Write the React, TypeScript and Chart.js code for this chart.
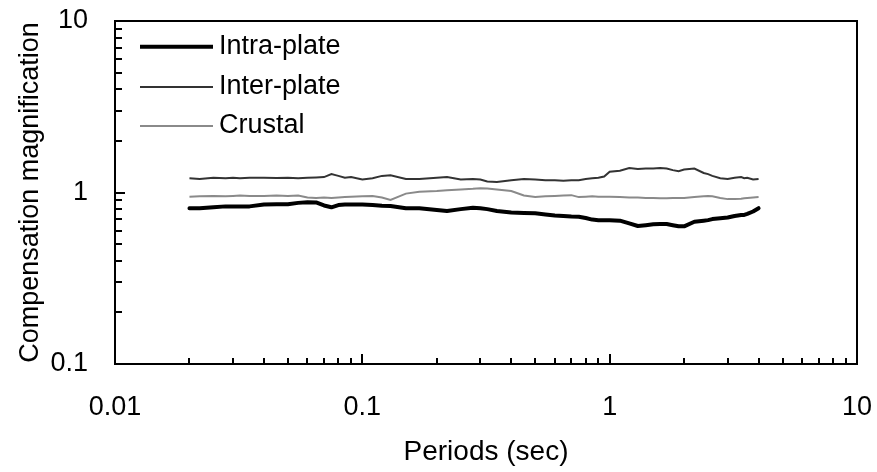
import React, { useEffect, useRef } from "react";
import { Chart, registerables } from "chart.js";

Chart.register(...registerables);

// ---------- data ----------
const periods = [
  0.02, 0.022, 0.025, 0.028, 0.03, 0.032, 0.035, 0.04, 0.045, 0.05, 0.055, 0.06,
  0.065, 0.07, 0.075, 0.08, 0.085, 0.09, 0.1, 0.11, 0.12, 0.13, 0.15, 0.17, 0.2,
  0.22, 0.25, 0.28, 0.3, 0.32, 0.35, 0.4, 0.45, 0.5, 0.55, 0.6, 0.65, 0.7, 0.75,
  0.8, 0.85, 0.9, 0.95, 1.0, 1.1, 1.2, 1.3, 1.4, 1.5, 1.6, 1.7, 1.8, 1.9, 2.0,
  2.2, 2.4, 2.5, 2.6, 2.8, 3.0, 3.2, 3.4, 3.5, 3.6, 3.8, 4.0,
];

const intraPlate = [
  0.81, 0.81, 0.82, 0.83, 0.83, 0.83, 0.83, 0.85, 0.855, 0.855, 0.87, 0.877,
  0.875, 0.84, 0.82, 0.845, 0.85, 0.85, 0.85, 0.845, 0.838, 0.835, 0.81, 0.81, 0.79,
  0.78, 0.8, 0.815, 0.81, 0.8, 0.78, 0.765, 0.76, 0.756, 0.745, 0.735, 0.73, 0.725, 0.722,
  0.71, 0.695, 0.69, 0.69, 0.69, 0.685, 0.66, 0.638, 0.645, 0.652, 0.655, 0.655, 0.645, 0.635, 0.635,
  0.675, 0.685, 0.69, 0.7, 0.707, 0.715, 0.73, 0.74, 0.74, 0.75, 0.775, 0.81,
];

const interPlate = [
  1.21, 1.2, 1.22, 1.21, 1.22, 1.21, 1.22, 1.22, 1.215, 1.22, 1.21, 1.22,
  1.225, 1.23, 1.28, 1.25, 1.22, 1.23, 1.19, 1.21, 1.25, 1.26, 1.2, 1.2, 1.22,
  1.23, 1.19, 1.2, 1.19, 1.16, 1.15, 1.18, 1.2, 1.19, 1.18, 1.18, 1.17, 1.18, 1.18,
  1.2, 1.21, 1.22, 1.24, 1.32, 1.34, 1.39, 1.37, 1.38, 1.38, 1.39, 1.38, 1.35, 1.33, 1.36,
  1.38, 1.3, 1.28, 1.25, 1.21, 1.2, 1.22, 1.23, 1.21, 1.22, 1.19, 1.2,
];

const crustal = [
  0.945, 0.95, 0.955, 0.95, 0.955, 0.96, 0.955, 0.955, 0.96, 0.955, 0.96, 0.935,
  0.93, 0.935, 0.93, 0.935, 0.94, 0.945, 0.95, 0.955, 0.935, 0.905, 0.985, 1.01, 1.02,
  1.03, 1.04, 1.05, 1.06, 1.055, 1.04, 1.02, 0.96, 0.94, 0.95, 0.955, 0.96, 0.965, 0.94,
  0.945, 0.95, 0.945, 0.945, 0.945, 0.94, 0.935, 0.935, 0.93, 0.93, 0.925, 0.925, 0.93, 0.93, 0.93,
  0.94, 0.95, 0.955, 0.95, 0.93, 0.915, 0.915, 0.92, 0.925, 0.93, 0.935, 0.94,
];

const seriesNames = ["Intra-plate", "Inter-plate", "Crustal"];

const xTickValues = [
  0.01, 0.02, 0.03, 0.04, 0.05, 0.06, 0.07, 0.08, 0.09,
  0.1, 0.2, 0.3, 0.4, 0.5, 0.6, 0.7, 0.8, 0.9,
  1, 2, 3, 4, 5, 6, 7, 8, 9, 10,
];
const xMajorTicks = [0.01, 0.1, 1, 10];
const xTickLabels = ["0.01", "0.1", "1", "10"];

const yTickValues = [
  0.1, 0.2, 0.3, 0.4, 0.5, 0.6, 0.7, 0.8, 0.9,
  1, 2, 3, 4, 5, 6, 7, 8, 9, 10,
];
const yMajorTicks = [0.1, 1, 10];
const yTickLabels = ["0.1", "1", "10"];

const xTitle = "Periods (sec)";
const yTitle = "Compensation magnification";

// ---------- layout ----------
const W = 877;
const H = 472;
const FONT = '"Liberation Sans", Arial, Helvetica, sans-serif';

const plotTop = 21;
const plotBottom = 364;
const plotLeft = 115;
const plotRight = 857;

const framePlugin = {
  id: "frameAndTicks",
  afterDatasetsDraw(chart: any) {
    const { ctx, chartArea } = chart;
    const xs = chart.scales.x;
    const ys = chart.scales.y;
    ctx.save();
    ctx.strokeStyle = "#000";
    ctx.lineCap = "butt";
    ctx.lineWidth = 2;
    for (const t of xs.ticks) {
      const v = t.value;
      const px = Math.round(xs.getPixelForValue(v));
      const len = xMajorTicks.includes(v) ? 10 : 6;
      ctx.beginPath();
      ctx.moveTo(px, chartArea.bottom);
      ctx.lineTo(px, chartArea.bottom - len);
      ctx.stroke();
    }
    for (const t of ys.ticks) {
      const v = t.value;
      const py = Math.round(ys.getPixelForValue(v));
      const len = yMajorTicks.includes(v) ? 10 : 7;
      ctx.beginPath();
      ctx.moveTo(chartArea.left, py);
      ctx.lineTo(chartArea.left + len, py);
      ctx.stroke();
    }
    // frame
    ctx.lineWidth = 2;
    ctx.strokeRect(chartArea.left, chartArea.top, chartArea.right - chartArea.left, chartArea.bottom - chartArea.top);

    // legend inside plot
    const rows = [25.7, 66, 105];
    chart.data.datasets.forEach((ds: any, i: number) => {
      const y = chartArea.top + rows[i];
      ctx.strokeStyle = ds.borderColor;
      ctx.lineWidth = ds.borderWidth;
      ctx.beginPath();
      ctx.moveTo(140, y);
      ctx.lineTo(213, y);
      ctx.stroke();
      ctx.fillStyle = "#000";
      ctx.font = `27px ${FONT}`;
      ctx.textAlign = "left";
      ctx.textBaseline = "middle";
      ctx.fillText(ds.label, 219, y);
    });
    ctx.restore();
  },
};

export default function App() {
  const canvasRef = useRef<HTMLCanvasElement | null>(null);

  useEffect(() => {
    const canvas = canvasRef.current;
    if (!canvas) return;
    const toPoints = (vals: number[]) => periods.map((p, i) => ({ x: p, y: vals[i] }));
    const chart = new Chart(canvas, {
      type: "line",
      data: {
        datasets: [
          {
            label: seriesNames[0],
            data: toPoints(intraPlate),
            borderColor: "#000000",
            borderWidth: 4,
            pointRadius: 0,
            tension: 0,
            borderJoinStyle: "round",
            borderCapStyle: "round",
          },
          {
            label: seriesNames[1],
            data: toPoints(interPlate),
            borderColor: "#333333",
            borderWidth: 2,
            pointRadius: 0,
            tension: 0,
          },
          {
            label: seriesNames[2],
            data: toPoints(crustal),
            borderColor: "#8a8a8a",
            borderWidth: 2,
            pointRadius: 0,
            tension: 0,
          },
        ],
      },
      options: {
        responsive: false,
        maintainAspectRatio: false,
        devicePixelRatio: 1,
        animation: false,
        events: [],
        layout: {
          padding: { left: 0, top: plotTop, right: W - plotRight, bottom: 0 },
        },
        plugins: {
          legend: { display: false },
          tooltip: { enabled: false },
        },
        scales: {
          x: {
            type: "logarithmic",
            min: 0.01,
            max: 10,
            afterBuildTicks: (axis: any) => {
              axis.ticks = xTickValues.map((v) => ({ value: v }));
            },
            afterFit: (axis: any) => {
              axis.height = H - plotBottom;
              axis.paddingLeft = 0;
              axis.paddingRight = 0;
            },
            grid: { display: false, drawTicks: false },
            border: { display: false },
            ticks: {
              autoSkip: false,
              maxRotation: 0,
              minRotation: 0,
              padding: 27,
              color: "#000",
              font: { family: FONT, size: 27 },
              callback: (value: any) => {
                const idx = xMajorTicks.indexOf(Number(value));
                return idx >= 0 ? xTickLabels[idx] : "";
              },
            },
            title: {
              display: true,
              text: xTitle,
              color: "#000",
              font: { family: FONT, size: 28 },
              padding: { top: 0, bottom: 3 },
            },
          },
          y: {
            type: "logarithmic",
            min: 0.1,
            max: 10,
            afterBuildTicks: (axis: any) => {
              axis.ticks = yTickValues.map((v) => ({ value: v }));
            },
            afterFit: (axis: any) => {
              axis.width = plotLeft;
              axis.paddingTop = 0;
              axis.paddingBottom = 0;
            },
            grid: { display: false, drawTicks: false },
            border: { display: false },
            ticks: {
              autoSkip: false,
              padding: 27,
              color: "#000",
              font: { family: FONT, size: 27 },
              callback: (value: any) => {
                const idx = yMajorTicks.indexOf(Number(value));
                return idx >= 0 ? yTickLabels[idx] : "";
              },
            },
            title: {
              display: true,
              text: yTitle,
              color: "#000",
              font: { family: FONT, size: 27 },
              padding: { top: 14, bottom: 0 },
            },
          },
        },
      } as any,
      plugins: [framePlugin],
    });
    return () => chart.destroy();
  }, []);

  return (
    <div
      style={{
        position: "fixed",
        left: 0,
        top: 0,
        width: W,
        height: H,
        background: "#fff",
        overflow: "hidden",
      }}
    >
      <canvas
        ref={canvasRef}
        width={W}
        height={H}
        style={{ width: `${W}px`, height: `${H}px`, display: "block" }}
      />
    </div>
  );
}
